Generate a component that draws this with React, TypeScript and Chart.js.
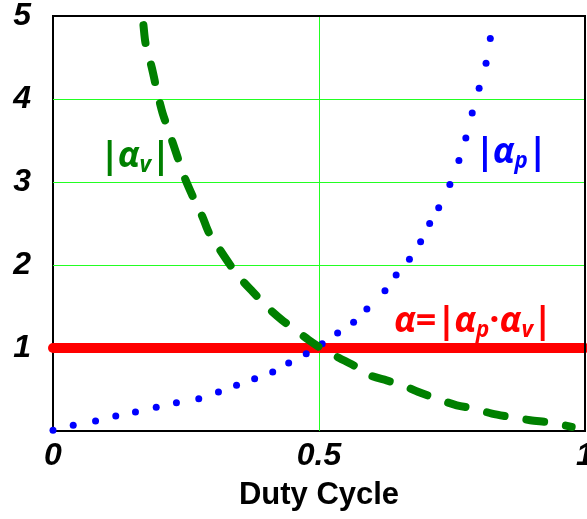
import React, { useEffect, useRef } from "react";
import { Chart, registerables } from "chart.js";
Chart.register(...registerables);

// Blue dotted series |αp|
const dutyP = [0, 0.038, 0.08, 0.118, 0.155, 0.194, 0.232, 0.274, 0.311, 0.345, 0.379, 0.413, 0.443, 0.476, 0.506, 0.535, 0.565, 0.59, 0.624, 0.645, 0.67, 0.691, 0.708, 0.725, 0.746, 0.763, 0.776, 0.788, 0.801, 0.814, 0.822];
const alphaP = [0.01, 0.07, 0.12, 0.18, 0.23, 0.285, 0.34, 0.39, 0.47, 0.55, 0.63, 0.71, 0.82, 0.93, 1.05, 1.18, 1.31, 1.47, 1.69, 1.88, 2.07, 2.28, 2.5, 2.69, 2.97, 3.26, 3.53, 3.83, 4.13, 4.43, 4.73];

// Green dashed series |αv|
const dutyV = [0.17, 0.174, 0.186, 0.195, 0.206, 0.219, 0.234, 0.247, 0.266, 0.281, 0.293, 0.31, 0.333, 0.352, 0.375, 0.405, 0.43, 0.455, 0.48, 0.508, 0.538, 0.571, 0.596, 0.627, 0.658, 0.687, 0.721, 0.759, 0.792, 0.825, 0.859, 0.897, 0.937, 0.975];
const alphaV = [4.89, 4.67, 4.37, 4.11, 3.83, 3.59, 3.3, 3.06, 2.78, 2.58, 2.39, 2.22, 2.0, 1.84, 1.68, 1.48, 1.34, 1.22, 1.1, 0.98, 0.88, 0.77, 0.67, 0.61, 0.55, 0.47, 0.39, 0.31, 0.27, 0.21, 0.17, 0.13, 0.1, 0.05];

// Red product line α = |αp·αv|
const dutyA = [0, 1];
const alphaA = [1, 1];

const xTicks = [0, 0.5, 1];
const yTicks = [0, 1, 2, 3, 4, 5];
const xGrid = [0.5];
const yGrid = [1, 2, 3, 4];
const xTitle = "Duty Cycle";

type Seg = { t: string; it?: boolean; sub?: boolean };
const labels: { x: number; y: number; size: number; color: string; segs: Seg[] }[] = [
  { x: 0.088, y: 3.18, size: 36, color: "#008000", segs: [{ t: "|" }, { t: "α", it: true }, { t: "v", it: true, sub: true }, { t: "|" }] },
  { x: 0.793, y: 3.23, size: 36, color: "#0000ff", segs: [{ t: "|" }, { t: "α", it: true }, { t: "p", it: true, sub: true }, { t: "|" }] },
  {
    x: 0.641, y: 1.19, size: 36, color: "#ff0000",
    segs: [{ t: "α", it: true }, { t: "=" }, { t: "|" }, { t: "α", it: true }, { t: "p", it: true, sub: true }, { t: "·" }, { t: "α", it: true }, { t: "v", it: true, sub: true }, { t: "|" }],
  },
];

const FAMILY = '"Open Sans", "Liberation Sans", sans-serif';
const GREEN_GRID = "#22ff22";

const gridPlugin = {
  id: "greenGrid",
  beforeDatasetsDraw(chart: any) {
    const { ctx, chartArea, scales } = chart;
    ctx.save();
    ctx.strokeStyle = GREEN_GRID;
    ctx.lineWidth = 1;
    ctx.beginPath();
    for (const v of xGrid) {
      const p = Math.round(scales.x.getPixelForValue(v)) + 0.5;
      ctx.moveTo(p, chartArea.top);
      ctx.lineTo(p, chartArea.bottom);
    }
    for (const v of yGrid) {
      const p = Math.round(scales.y.getPixelForValue(v)) + 0.5;
      ctx.moveTo(chartArea.left, p);
      ctx.lineTo(chartArea.right, p);
    }
    ctx.stroke();
    ctx.restore();
  },
};

const labelPlugin = {
  id: "richLabels",
  afterDatasetsDraw(chart: any) {
    const { ctx, scales } = chart;
    const xs = scales.x, ys = scales.y;
    ctx.save();
    ctx.textBaseline = "alphabetic";
    ctx.textAlign = "left";
    for (const l of labels) {
      let px = xs.getPixelForValue(l.x);
      const py = ys.getPixelForValue(l.y);
      ctx.fillStyle = l.color;
      for (const s of l.segs) {
        const sz = s.sub ? l.size * 0.62 : l.size;
        ctx.font = `${s.it ? "italic " : ""}bold ${sz}px ${FAMILY}`;
        const dy = s.sub ? l.size * 0.14 : 0;
        ctx.fillText(s.t, px, py + dy);
        px += ctx.measureText(s.t).width - (s.t === "|" ? 2 : 0);
      }
    }
    ctx.restore();
  },
};

const framePlugin = {
  id: "frame",
  afterDraw(chart: any) {
    const { ctx, chartArea } = chart;
    ctx.save();
    ctx.strokeStyle = "#000";
    ctx.lineWidth = 2;
    ctx.beginPath();
    ctx.moveTo(chartArea.left, chartArea.top);
    ctx.lineTo(chartArea.right, chartArea.top);
    ctx.lineTo(chartArea.right, chartArea.bottom);
    ctx.stroke();
    ctx.restore();
  },
};

export default function App() {
  const ref = useRef<HTMLCanvasElement>(null);
  useEffect(() => {
    if (!ref.current) return;
    const chart = new Chart(ref.current, {
      type: "scatter",
      data: {
        datasets: [
          {
            label: "|αv|",
            data: dutyV.map((d, i) => ({ x: d, y: alphaV[i] })),
            showLine: true,
            borderColor: "#008000",
            backgroundColor: "#008000",
            borderWidth: 8,
            borderDash: [18, 22],
            borderCapStyle: "round",
            tension: 0.3,
            pointRadius: 0,
            clip: false,
            order: 1,
          } as any,
          {
            label: "|αp|",
            data: dutyP.map((d, i) => ({ x: d, y: alphaP[i] })),
            showLine: false,
            pointRadius: 3.5,
            pointBackgroundColor: "#0000ff",
            pointBorderWidth: 0,
            clip: false,
            order: 2,
          } as any,
          {
            label: "α",
            data: dutyA.map((d, i) => ({ x: d, y: alphaA[i] })),
            showLine: true,
            borderColor: "#ff0000",
            borderWidth: 10,
            borderCapStyle: "round",
            pointRadius: 0,
            clip: false,
            order: 3,
          } as any,
        ],
      },
      options: {
        animation: false,
        responsive: false,
        events: [],
        layout: { autoPadding: false, padding: { left: 0, top: 16, right: 2, bottom: 0 } },
        plugins: { legend: { display: false }, tooltip: { enabled: false } },
        scales: {
          x: {
            type: "linear",
            min: 0,
            max: 1,
            afterBuildTicks: (s: any) => { s.ticks = xTicks.map((v) => ({ value: v })); },
            afterFit: (s: any) => { s.height = 88; s.paddingLeft = 0; s.paddingRight = 0; s.paddingTop = 0; s.paddingBottom = 0; },
            ticks: {
              padding: 6,
              color: "#000",
              font: { family: '"Liberation Sans", Arial, sans-serif', size: 32, weight: "bold", style: "italic" },
              callback: (v: any) => String(v),
            },
            grid: { display: false, drawTicks: false },
            border: { display: true, color: "#000", width: 2 },
            title: {
              display: true,
              text: xTitle,
              color: "#000",
              font: { family: '"Liberation Sans", Arial, sans-serif', size: 31, weight: "bold" },
              padding: { top: 0, bottom: 5 },
            },
          },
          y: {
            type: "linear",
            min: 0,
            max: 5,
            afterBuildTicks: (s: any) => { s.ticks = yTicks.map((v) => ({ value: v })); },
            afterFit: (s: any) => { s.width = 53; s.paddingLeft = 0; s.paddingRight = 0; s.paddingTop = 0; s.paddingBottom = 0; },
            ticks: {
              padding: 22,
              color: "#000",
              font: { family: '"Liberation Sans", Arial, sans-serif', size: 32, weight: "bold", style: "italic" },
              callback: (v: any) => (v === 0 ? "" : String(v)),
            },
            grid: { display: false, drawTicks: false },
            border: { display: true, color: "#000", width: 2 },
          },
        },
      } as any,
      plugins: [gridPlugin, labelPlugin, framePlugin],
    });
    return () => chart.destroy();
  }, []);
  return (
    <div style={{ position: "absolute", left: 0, top: 0, width: 587, height: 519, background: "#fff" }}>
      <canvas ref={ref} width={587} height={519} style={{ display: "block" }} />
    </div>
  );
}
